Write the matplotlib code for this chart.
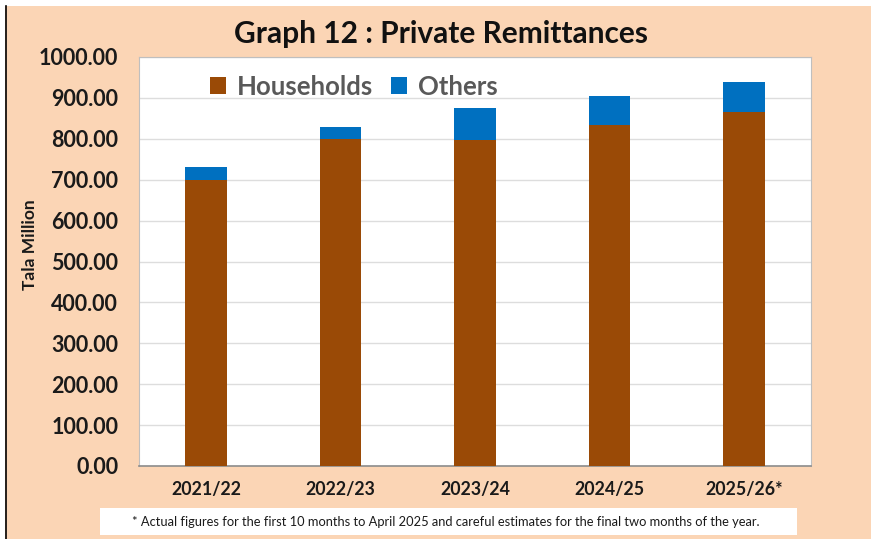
import numpy as np
import matplotlib.pyplot as plt
from matplotlib.patches import Rectangle

plt.rcParams['font.family'] = ['Lato', 'DejaVu Sans']

years = ["2021/22", "2022/23", "2023/24", "2024/25", "2025/26*"]
households = [700, 800, 798, 834, 866]
others = [32, 29, 78, 71, 73]
yticks = [0, 100, 200, 300, 400, 500, 600, 700, 800, 900, 1000]

peach = "#FBD5B5"
brown = "#9A4A06"
blue = "#0070C0"

fig = plt.figure(figsize=(8.71, 5.39), dpi=100)
fig.patch.set_facecolor("white")
# peach panel with black left edge
fig.patches.append(Rectangle((5/871, 0), 866/871, 1 - 6/539, transform=fig.transFigure,
                             facecolor=peach, edgecolor="none", zorder=-10))
fig.lines.append(plt.Line2D([5.5/871, 5.5/871], [0, 1 - 6/539], transform=fig.transFigure,
                            color="black", lw=1.2, zorder=-9))

ax = fig.add_axes([139/871, 1 - 466/539, 672/871, 409/539])
ax.set_facecolor("white")
x = np.arange(len(years))
ax.bar(x, households, width=0.31, color=brown, label="Households", zorder=3)
ax.bar(x, others, width=0.31, bottom=households, color=blue, label="Others", zorder=3)

ax.set_xlim(-0.5, len(years) - 0.5)
ax.set_ylim(0, 1000)
ax.set_yticks(yticks)
ax.set_yticklabels([f"{v:.2f}" for v in yticks], fontsize=15.5, fontweight="bold", color="#1a1a1a")
ax.set_xticks(x)
ax.set_xticklabels(years, fontsize=12.8, fontweight="bold", color="#1a1a1a")
ax.tick_params(axis="both", length=0)
ax.tick_params(axis="y", pad=15)
ax.tick_params(axis="x", pad=11)
ax.grid(axis="y", color="#DDDDDD", lw=1, zorder=0)
for side in ["top", "right", "left"]:
    ax.spines[side].set_color("#BFBFBF")
    ax.spines[side].set_linewidth(0.8)
ax.spines["bottom"].set_color("#8C8C8C")
ax.spines["bottom"].set_linewidth(1.2)

leg = ax.legend(loc="center left", bbox_to_anchor=(0.105, 0.927), ncol=2, frameon=False,
                fontsize=18.5, handlelength=0.65, handleheight=0.65, handletextpad=0.4,
                columnspacing=0.7, borderpad=0, borderaxespad=0)
for t in leg.get_texts():
    t.set_color("#595959")
    t.set_fontweight("bold")

fig.text(441/871, 1 - 34/539, "Graph 12 : Private Remittances", ha="center", va="center",
         fontsize=21.5, fontweight="bold", color="#111111")
fig.text(30/871, 1 - 245/539, "Tala Million", rotation=90, ha="center", va="center",
         fontsize=12.5, fontweight="bold", color="#1a1a1a")

fig.patches.append(Rectangle((100/871, 1 - 535/539), 697/871, 27/539, transform=fig.transFigure,
                             facecolor="white", edgecolor="none", zorder=1))
fig.text(446/871, 1 - 522/539,
         "* Actual figures for the first 10 months to April 2025 and careful estimates for the final two months of the year.",
         ha="center", va="center", fontsize=9.3, color="#1a1a1a", zorder=2)

fig.savefig("out.png", dpi=100, facecolor=fig.get_facecolor())
